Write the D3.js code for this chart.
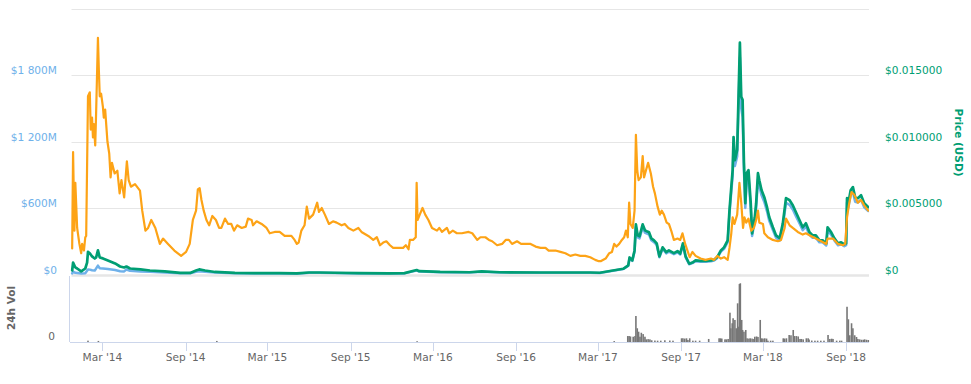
<!DOCTYPE html>
<html><head><meta charset="utf-8">
<script src="https://cdn.jsdelivr.net/npm/d3@7"></script>
<style>body{margin:0;background:#fff;} svg{display:block;font-family:"DejaVu Sans",Verdana,sans-serif;}</style>
</head><body><svg id="c" width="971" height="384"></svg>
<script>
// Price in BTC (satoshi)
const priceBTC = [["2013-12-24",19.6],["2013-12-26",92],["2013-12-29",33],["2013-12-31",69],["2014-01-04",35],["2014-01-09",23],["2014-01-13",16],["2014-01-15",23],["2014-01-19",18],["2014-01-22",28],["2014-01-24",29],["2014-01-28",134],["2014-02-01",137],["2014-02-03",109],["2014-02-06",118],["2014-02-08",103],["2014-02-10",113],["2014-02-13",97],["2014-02-15",122],["2014-02-19",178],["2014-02-21",154],["2014-02-23",134],["2014-02-26",136],["2014-03-02",126],["2014-03-04",118],["2014-03-07",124],["2014-03-12",100],["2014-03-16",91],["2014-03-19",73],["2014-03-22",84],["2014-03-28",76],["2014-04-03",78],["2014-04-08",61],["2014-04-12",71],["2014-04-18",58],["2014-04-24",85],["2014-04-28",71],["2014-05-03",66],["2014-05-12",68],["2014-05-23",63],["2014-05-28",48],["2014-06-04",33],["2014-06-10",35],["2014-06-17",41],["2014-06-26",35],["2014-07-06",23],["2014-07-13",27],["2014-07-24",23],["2014-08-07",18],["2014-08-22",14],["2014-09-02",17],["2014-09-10",23],["2014-09-17",41],["2014-09-24",48],["2014-09-28",64],["2014-10-02",65],["2014-10-06",56],["2014-10-11",48],["2014-10-17",41],["2014-10-23",37],["2014-10-30",44],["2014-11-07",41],["2014-11-14",35],["2014-11-19",35],["2014-11-27",42],["2014-12-04",38],["2014-12-11",38],["2014-12-17",33],["2014-12-24",37],["2015-01-03",35],["2015-01-12",36],["2015-01-17",42],["2015-01-25",41],["2015-01-28",37],["2015-02-05",40],["2015-02-16",38],["2015-02-27",35],["2015-03-06",31],["2015-03-17",32],["2015-03-28",32],["2015-04-08",29],["2015-04-23",29],["2015-04-30",26],["2015-05-05",23],["2015-05-09",24],["2015-05-15",33],["2015-05-22",37],["2015-05-27",51],["2015-06-01",42],["2015-06-10",45],["2015-06-19",54],["2015-06-23",47],["2015-06-29",50],["2015-07-06",45],["2015-07-15",38],["2015-07-24",40],["2015-08-01",39],["2015-08-12",37],["2015-08-19",38],["2015-08-27",35],["2015-09-07",33],["2015-09-18",35],["2015-09-25",32],["2015-10-10",29],["2015-10-21",26],["2015-10-29",28],["2015-11-05",22],["2015-11-12",24],["2015-11-19",25],["2015-11-27",22],["2015-12-04",20],["2015-12-15",20],["2015-12-26",20],["2016-01-01",22],["2016-01-07",19],["2016-01-10",26],["2016-01-17",26],["2016-01-23",28],["2016-01-25",69],["2016-01-27",41],["2016-02-02",46],["2016-02-07",50],["2016-02-13",45],["2016-02-20",41],["2016-02-28",35],["2016-03-10",33],["2016-03-15",35],["2016-03-21",32],["2016-04-01",35],["2016-04-06",31],["2016-04-14",33],["2016-04-23",31],["2016-05-04",31],["2016-05-19",32],["2016-05-27",31],["2016-06-07",26],["2016-06-14",28],["2016-06-25",28],["2016-07-03",26],["2016-07-10",25],["2016-07-21",22],["2016-08-01",23],["2016-08-09",26],["2016-08-16",26],["2016-08-23",23],["2016-09-03",25],["2016-09-12",23],["2016-09-22",23],["2016-10-03",23],["2016-10-14",21],["2016-10-25",20],["2016-11-05",20],["2016-11-12",18],["2016-11-27",18],["2016-12-08",17],["2016-12-19",16],["2016-12-30",14],["2017-01-10",15],["2017-01-21",14],["2017-02-01",14],["2017-02-12",13],["2017-02-23",11],["2017-03-03",10],["2017-03-07",10],["2017-03-18",12],["2017-03-26",16],["2017-04-01",17],["2017-04-06",23],["2017-04-11",21],["2017-04-17",23],["2017-04-23",26],["2017-04-28",28],["2017-05-02",33],["2017-05-06",28],["2017-05-09",54],["2017-05-12",38],["2017-05-17",35],["2017-05-21",48],["2017-05-24",105],["2017-05-27",78],["2017-05-30",71],["2017-06-04",73],["2017-06-08",89],["2017-06-11",73],["2017-06-15",78],["2017-06-20",84],["2017-06-26",76],["2017-07-01",66],["2017-07-05",61],["2017-07-11",51],["2017-07-16",45],["2017-07-20",48],["2017-07-25",45],["2017-07-31",39],["2017-08-05",38],["2017-08-11",32],["2017-08-16",26],["2017-08-24",27],["2017-08-30",26],["2017-09-04",31],["2017-09-10",23],["2017-09-15",18],["2017-09-20",13],["2017-09-26",17],["2017-10-03",14],["2017-10-14",12],["2017-10-25",11],["2017-11-06",12],["2017-11-13",11],["2017-11-20",14],["2017-11-28",12],["2017-12-05",13],["2017-12-13",11],["2017-12-17",20],["2017-12-21",31],["2017-12-24",43],["2017-12-28",38],["2018-01-03",45],["2018-01-08",69],["2018-01-12",54],["2018-01-16",35],["2018-01-19",43],["2018-01-23",39],["2018-01-28",42],["2018-02-03",33],["2018-02-09",35],["2018-02-14",41],["2018-02-18",48],["2018-02-21",39],["2018-03-01",38],["2018-03-04",31],["2018-03-12",28],["2018-03-23",26],["2018-04-03",25],["2018-04-10",26],["2018-04-18",35],["2018-04-21",42],["2018-04-29",37],["2018-05-06",35],["2018-05-17",32],["2018-05-28",30],["2018-06-04",31],["2018-06-15",29],["2018-06-26",27],["2018-07-08",25],["2018-07-19",23],["2018-07-22",27],["2018-08-03",27],["2018-08-14",23],["2018-08-25",22],["2018-08-30",23],["2018-09-03",43],["2018-09-08",54],["2018-09-13",62],["2018-09-19",60],["2018-09-27",54],["2018-10-04",56],["2018-10-11",52],["2018-10-20",48]];

// Price in USD
const priceUSD = [["2013-12-24",0.0003],["2013-12-26",0.0009],["2013-12-31",0.00053],["2014-01-04",0.00045],["2014-01-13",0.00023],["2014-01-22",0.00045],["2014-01-26",0.0009],["2014-01-28",0.0017],["2014-02-01",0.0016],["2014-02-06",0.00136],["2014-02-12",0.0012],["2014-02-15",0.00128],["2014-02-19",0.00181],["2014-02-23",0.00128],["2014-03-02",0.00121],["2014-03-13",0.00106],["2014-03-29",0.00083],["2014-04-09",0.0006],["2014-04-18",0.00053],["2014-04-23",0.0006],["2014-05-01",0.00045],["2014-05-24",0.00038],["2014-06-14",0.0003],["2014-07-17",0.00023],["2014-08-20",0.00012],["2014-09-11",0.00012],["2014-09-24",0.0003],["2014-10-01",0.00038],["2014-10-14",0.0003],["2014-11-05",0.00019],["2014-12-19",0.00012],["2015-02-01",0.0001],["2015-03-28",0.0001],["2015-05-05",0.00008],["2015-06-01",0.00015],["2015-06-23",0.00015],["2015-07-27",0.00013],["2015-09-20",0.0001],["2015-11-25",0.00009],["2015-12-29",0.0001],["2016-01-25",0.00034],["2016-01-31",0.00025],["2016-03-17",0.00019],["2016-05-21",0.00017],["2016-06-17",0.00023],["2016-07-27",0.00017],["2016-10-25",0.00015],["2016-12-30",0.00015],["2017-02-12",0.00015],["2017-03-05",0.00013],["2017-04-03",0.0003],["2017-04-26",0.00043],["2017-05-07",0.00068],["2017-05-10",0.00128],["2017-05-16",0.00106],["2017-05-21",0.00181],["2017-05-24",0.00377],["2017-05-28",0.00294],["2017-06-01",0.00287],["2017-06-08",0.00377],["2017-06-13",0.00332],["2017-06-17",0.00325],["2017-06-22",0.00317],["2017-06-27",0.00272],["2017-07-03",0.00257],["2017-07-09",0.00234],["2017-07-15",0.00136],["2017-07-22",0.00204],["2017-07-30",0.00168],["2017-08-05",0.00181],["2017-08-16",0.00161],["2017-08-24",0.00176],["2017-08-30",0.00158],["2017-09-05",0.00234],["2017-09-11",0.00136],["2017-09-19",0.00081],["2017-09-26",0.0009],["2017-10-03",0.00106],["2017-10-14",0.00102],["2017-10-26",0.00102],["2017-11-06",0.00106],["2017-11-13",0.00111],["2017-11-20",0.00131],["2017-11-28",0.00181],["2017-12-05",0.00204],["2017-12-13",0.00257],["2017-12-17",0.00483],["2017-12-21",0.00657],["2017-12-24",0.00785],["2017-12-26",0.01034],["2017-12-29",0.0086],["2018-01-03",0.00936],["2018-01-06",0.01336],["2018-01-09",0.01743],["2018-01-12",0.01336],["2018-01-15",0.01313],["2018-01-18",0.00838],["2018-01-21",0.00536],["2018-01-24",0.00762],["2018-01-28",0.00785],["2018-02-02",0.00536],["2018-02-05",0.00309],["2018-02-11",0.0043],["2018-02-14",0.00536],["2018-02-18",0.00762],["2018-02-21",0.00709],["2018-02-26",0.00634],["2018-03-04",0.00581],["2018-03-10",0.00506],["2018-03-15",0.0043],["2018-03-23",0.00355],["2018-03-30",0.00294],["2018-04-07",0.00272],["2018-04-14",0.00385],["2018-04-21",0.00574],["2018-04-29",0.00558],["2018-05-06",0.00521],["2018-05-13",0.00468],["2018-05-21",0.00408],["2018-05-28",0.00355],["2018-06-04",0.00385],["2018-06-12",0.00317],["2018-06-19",0.00294],["2018-06-26",0.00294],["2018-07-04",0.00257],["2018-07-11",0.00257],["2018-07-19",0.00232],["2018-07-22",0.00355],["2018-07-30",0.00317],["2018-08-06",0.00272],["2018-08-14",0.00234],["2018-08-21",0.00242],["2018-08-28",0.00226],["2018-09-01",0.00234],["2018-09-03",0.00574],["2018-09-06",0.00536],["2018-09-11",0.00634],["2018-09-16",0.00657],["2018-09-21",0.00581],["2018-09-27",0.00574],["2018-10-04",0.00596],["2018-10-11",0.00536],["2018-10-20",0.00506]];

// Market cap (million USD)
const marketCap = [["2013-12-24",10],["2013-12-26",25],["2013-12-31",15],["2014-01-13",8],["2014-01-22",12],["2014-01-28",45],["2014-02-01",44],["2014-02-06",38],["2014-02-12",35],["2014-02-19",80],["2014-02-23",57],["2014-03-02",55],["2014-03-13",50],["2014-03-29",40],["2014-04-09",30],["2014-04-18",28],["2014-04-23",45],["2014-05-01",33],["2014-05-24",28],["2014-06-14",24],["2014-07-17",19],["2014-08-20",11],["2014-09-11",11],["2014-09-24",24],["2014-10-01",30],["2014-10-14",24],["2014-11-05",17],["2014-12-19",11],["2015-02-01",8],["2015-03-28",8],["2015-05-05",6],["2015-06-01",15],["2015-06-23",15],["2015-07-27",13],["2015-09-20",10],["2015-12-29",10],["2016-01-25",35],["2016-01-31",26],["2016-03-17",20],["2016-05-21",18],["2016-06-17",24],["2016-07-27",18],["2016-10-25",16],["2016-12-30",16],["2017-02-12",16],["2017-03-05",14],["2017-04-03",34],["2017-04-26",49],["2017-05-07",78],["2017-05-10",146],["2017-05-16",122],["2017-05-21",206],["2017-05-24",428],["2017-05-28",334],["2017-06-01",326],["2017-06-08",428],["2017-06-13",377],["2017-06-17",370],["2017-06-22",360],["2017-06-27",309],["2017-07-03",292],["2017-07-09",266],["2017-07-15",155],["2017-07-22",232],["2017-07-30",191],["2017-08-05",206],["2017-08-16",183],["2017-08-24",200],["2017-08-30",180],["2017-09-05",266],["2017-09-11",155],["2017-09-19",92],["2017-09-26",102],["2017-10-03",120],["2017-10-14",116],["2017-10-26",116],["2017-11-06",120],["2017-11-13",126],["2017-11-20",149],["2017-11-28",206],["2017-12-05",232],["2017-12-13",292],["2017-12-17",550],["2017-12-21",748],["2017-12-24",893],["2017-12-26",1176],["2017-12-29",980],["2018-01-03",1066],["2018-01-06",1520],["2018-01-09",1960],["2018-01-12",1500],["2018-01-15",1420],["2018-01-18",940],["2018-01-21",600],["2018-01-24",855],["2018-01-28",880],["2018-02-02",600],["2018-02-05",348],["2018-02-11",484],["2018-02-14",604],["2018-02-18",858],["2018-02-21",798],["2018-02-26",714],["2018-03-04",655],["2018-03-10",570],["2018-03-15",484],["2018-03-23",400],["2018-03-30",331],["2018-04-07",306],["2018-04-14",434],["2018-04-21",647],["2018-04-29",629],["2018-05-06",587],["2018-05-13",527],["2018-05-21",460],["2018-05-28",400],["2018-06-04",434],["2018-06-12",357],["2018-06-19",331],["2018-06-26",331],["2018-07-04",290],["2018-07-11",290],["2018-07-19",262],["2018-07-22",400],["2018-07-30",357],["2018-08-06",307],["2018-08-14",264],["2018-08-21",273],["2018-08-28",255],["2018-09-01",264],["2018-09-03",650],["2018-09-06",606],["2018-09-11",717],["2018-09-16",743],["2018-09-21",657],["2018-09-27",650],["2018-10-04",675],["2018-10-11",606],["2018-10-20",573]];

// 24h volume (million USD)
const volume = [["2014-01-28",10],["2014-02-20",8],["2014-11-09",8],["2016-01-26",6],["2017-04-06",7],["2017-05-06",45],["2017-05-09",45],["2017-05-12",42],["2017-05-18",40],["2017-05-22",45],["2017-05-24",197],["2017-05-27",104],["2017-05-30",78],["2017-06-02",40],["2017-06-05",70],["2017-06-09",60],["2017-06-13",40],["2017-06-16",20],["2017-06-20",22],["2017-06-24",20],["2017-06-28",13],["2017-07-05",11],["2017-07-11",10],["2017-07-18",10],["2017-07-27",13],["2017-08-07",11],["2017-08-14",10],["2017-09-02",28],["2017-09-05",28],["2017-09-09",26],["2017-09-13",28],["2017-09-16",15],["2017-09-20",28],["2017-09-27",10],["2017-10-03",10],["2017-10-12",10],["2017-11-01",23],["2017-11-24",28],["2017-11-27",28],["2017-11-30",26],["2017-12-07",20],["2017-12-10",20],["2017-12-14",23],["2017-12-18",222],["2017-12-20",104],["2017-12-23",142],["2017-12-25",180],["2017-12-29",167],["2018-01-01",104],["2018-01-04",293],["2018-01-06",116],["2018-01-08",439],["2018-01-10",445],["2018-01-13",167],["2018-01-15",91],["2018-01-18",78],["2018-01-22",91],["2018-01-25",28],["2018-01-29",26],["2018-02-01",28],["2018-02-05",26],["2018-02-09",23],["2018-02-11",40],["2018-02-15",42],["2018-02-18",38],["2018-02-23",167],["2018-02-26",28],["2018-03-01",26],["2018-03-05",28],["2018-03-09",26],["2018-03-12",10],["2018-03-18",10],["2018-03-23",10],["2018-04-15",28],["2018-04-18",26],["2018-04-22",28],["2018-04-28",53],["2018-05-02",51],["2018-05-07",91],["2018-05-10",45],["2018-05-14",45],["2018-05-18",42],["2018-05-22",23],["2018-05-25",23],["2018-05-29",20],["2018-06-05",28],["2018-06-09",28],["2018-06-11",19],["2018-06-17",11],["2018-06-24",10],["2018-06-30",10],["2018-07-07",10],["2018-07-14",10],["2018-07-23",53],["2018-07-27",23],["2018-07-31",25],["2018-08-03",23],["2018-08-11",10],["2018-08-18",10],["2018-08-22",10],["2018-09-03",267],["2018-09-06",172],["2018-09-09",51],["2018-09-13",142],["2018-09-16",104],["2018-09-20",51],["2018-09-24",38],["2018-09-27",23],["2018-10-01",20],["2018-10-05",17],["2018-10-09",17],["2018-10-12",20],["2018-10-16",17],["2018-10-20",15]];

const capTicks = [0, 600, 1200, 1800];
const usdTicks = [0, 0.005, 0.010, 0.015];
const gridTicks = [0, 600, 1200, 1800, 2400];
const xTickDates = ["2014-03-01","2014-09-01","2015-03-01","2015-09-01","2016-03-01","2016-09-01","2017-03-01","2017-09-01","2018-03-01","2018-09-01"];

const parse = d3.utcParse("%Y-%m-%d");
const svg = d3.select("#c");
const L = 71.5, R = 869;

const x = d3.scaleUtc().domain([parse("2013-12-15"), parse("2018-11-01")]).range([68.1, 873.7]);
const yCap = d3.scaleLinear().domain([0, 2400]).range([274.5, 8.5]);
const yUsd = d3.scaleLinear().domain([0, 0.02]).range([274.5, 8.5]);
const yBtc = d3.scaleLinear().domain([0, 200]).range([274.5, 8.5]);
const yVol = d3.scaleLinear().domain([0, 500]).range([342, 276]);

// grid
svg.append("g").selectAll("line").data(gridTicks).join("line")
  .attr("x1", L).attr("x2", R)
  .attr("y1", d => Math.round(yCap(d)) + 0.5).attr("y2", d => Math.round(yCap(d)) + 0.5)
  .attr("stroke", "#e6e6e6").attr("stroke-width", d => d === 0 ? 2.5 : 1);

// clip
svg.append("defs").append("clipPath").attr("id", "pc")
  .append("rect").attr("x", 70).attr("y", 0).attr("width", R - 70).attr("height", 277);

const g = svg.append("g").attr("clip-path", "url(#pc)");
function addLine(data, yS, color, w) {
  const line = d3.line().x(d => x(parse(d[0]))).y(d => yS(d[1]));
  g.append("path").datum(data).attr("d", line)
    .attr("fill", "none").attr("stroke", color).attr("stroke-width", w)
    .attr("stroke-linejoin", "round").attr("stroke-linecap", "round");
}
addLine(marketCap, yCap, "#6fb1ea", 2.5);
addLine(priceUSD, yUsd, "#009e73", 2.7);
addLine(priceBTC, yBtc, "#fda316", 2.2);

// volume bars
svg.append("g").selectAll("rect").data(volume).join("rect")
  .attr("x", d => x(parse(d[0])) - 0.8).attr("width", 1.6)
  .attr("y", d => yVol(d[1])).attr("height", d => 342 - yVol(d[1]))
  .attr("fill", "#777777");

// volume axis lines
svg.append("line").attr("x1", 69.5).attr("x2", 69.5).attr("y1", 276).attr("y2", 342)
  .attr("stroke", "#ccd6eb");
svg.append("line").attr("x1", 70).attr("x2", R).attr("y1", 342.5).attr("y2", 342.5)
  .attr("stroke", "#ccd6eb");

// x axis
const xa = svg.append("g");
xa.selectAll("line").data(xTickDates).join("line")
  .attr("x1", d => Math.round(x(parse(d))) + 0.5).attr("x2", d => Math.round(x(parse(d))) + 0.5)
  .attr("y1", 342).attr("y2", 351).attr("stroke", "#ccd6eb");
const fmt = d3.utcFormat("%b '%y");
xa.selectAll("text").data(xTickDates).join("text")
  .attr("x", d => x(parse(d))).attr("y", 361)
  .attr("text-anchor", "middle").attr("font-size", "10.6px").attr("fill", "#666666")
  .text(d => fmt(parse(d)));

// left axis labels
svg.append("g").selectAll("text").data(capTicks).join("text")
  .attr("x", 57).attr("y", d => yCap(d) - 1).attr("text-anchor", "end")
  .attr("font-size", "10.6px").attr("fill", "#6fb1ea")
  .text(d => d === 0 ? "$0" : "$" + d3.format(",")(d).replace(/,/g, " ") + "M");

// right axis labels
svg.append("g").selectAll("text").data(usdTicks).join("text")
  .attr("x", 885).attr("y", d => yUsd(d) - 1).attr("text-anchor", "start")
  .attr("font-size", "10.6px").attr("fill", "#009e73")
  .text(d => d === 0 ? "$0" : "$" + d.toFixed(6));

svg.append("text").attr("transform", "translate(955,142.5) rotate(90)")
  .attr("text-anchor", "middle").attr("font-size", "10.5px").attr("font-weight", "bold")
  .attr("fill", "#009e73").text("Price (USD)");

// volume axis
svg.append("text").attr("x", 55).attr("y", 340).attr("text-anchor", "end")
  .attr("font-size", "10.6px").attr("fill", "#666666").text("0");
svg.append("text").attr("transform", "translate(15,308) rotate(-90)")
  .attr("text-anchor", "middle").attr("font-size", "10.5px").attr("font-weight", "bold")
  .attr("fill", "#666666").text("24h Vol");
</script></body></html>
